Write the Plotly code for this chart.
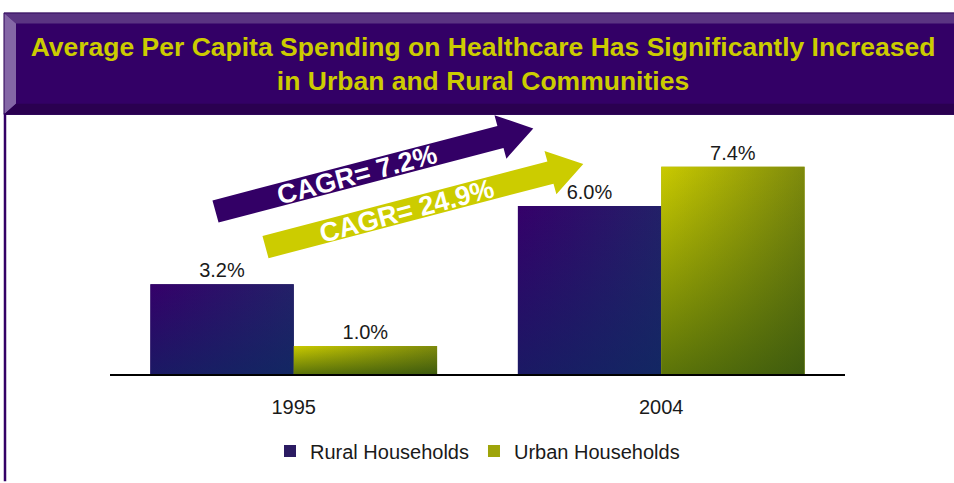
import math
import plotly.graph_objects as go

# ---------------- data ----------------
categories = ["1995", "2004"]
rural = [3.2, 6.0]
urban = [1.0, 7.4]
series_names = ["Rural Households", "Urban Households"]
cagr_labels = ["CAGR= 7.2%", "CAGR= 24.9%"]
title_lines = ["Average Per Capita Spending on Healthcare Has Significantly Increased",
               "in Urban and Rural Communities"]

# ---------------- geometry helpers ----------------
W, H = 954, 483
ML, MR, MT, MB = 110, 109, 130, 103
PW = W - ML - MR
PH = H - MT - MB
YMAX = 8.71
BW = 0.39
FONT = "Liberation Sans, Arial, sans-serif"

PURPLE = "#330066"
YELLOW = "#cccc00"
ANG = 15


def px(x):
    return (x - ML) / PW


def py(y):
    return (H - MB - y) / PH


def path(points):
    pts = [f"{px(x):.5f},{py(y):.5f}" for x, y in points]
    return "M" + " L".join(pts) + " Z"


def along(tx, ty, s, t=0.0, ang_deg=ANG):
    a = math.radians(ang_deg)
    ux, uy = math.cos(a), -math.sin(a)
    nx, ny = math.sin(a), math.cos(a)
    return (tx + ux * s + nx * t, ty + uy * s + ny * t)


def arrow_pts(tx, ty, L, bt, hl, hw):
    P = lambda s, t: along(tx, ty, s, t)
    return [P(0, -bt / 2), P(L - hl, -bt / 2), P(L - hl, -hw / 2), P(L, 0),
            P(L - hl, hw / 2), P(L - hl, bt / 2), P(0, bt / 2)]


xpos = list(range(len(categories)))

fig = go.Figure()

# data bars
fig.add_trace(go.Bar(
    x=xpos, y=rural, name=series_names[0], width=BW, offset=-BW,
    marker=dict(color="#2b1b62", line=dict(width=0)),
    texttemplate="%{y:.1f}%", textposition="outside", cliponaxis=False,
    textfont=dict(family=FONT, size=20, color="#1a1a1a"), hoverinfo="skip"))
fig.add_trace(go.Bar(
    x=xpos, y=urban, name=series_names[1], width=BW, offset=0,
    marker=dict(color="#9ea40a", line=dict(width=0)),
    texttemplate="%{y:.1f}%", textposition="outside", cliponaxis=False,
    textfont=dict(family=FONT, size=20, color="#1a1a1a"), hoverinfo="skip"))

# gradient shading drawn over the same bars (derived from the data arrays)
shade = {
    0: dict(h=[[0, "#35006a"], [1, "#232068"]], v=[[0, "rgba(5,45,95,0.55)"], [1, "rgba(5,45,95,0)"]]),
    1: dict(h=[[0, "#caca00"], [1, "#7e8a0c"]], v=[[0, "rgba(20,60,15,0.6)"], [1, "rgba(20,60,15,0)"]]),
}
for s, vals in enumerate([rural, urban]):
    for xc, v in zip(xpos, vals):
        x0 = xc - BW if s == 0 else xc
        x1 = xc if s == 0 else xc + BW
        xs = [x0, x0, x1, x1, x0]
        ys = [0, v, v, 0, 0]
        fig.add_trace(go.Scatter(
            x=xs, y=ys, mode="lines", fill="toself", line=dict(width=0),
            fillgradient=dict(type="horizontal", start=x0, stop=x1, colorscale=shade[s]["h"]),
            showlegend=False, hoverinfo="skip"))
        fig.add_trace(go.Scatter(
            x=xs, y=ys, mode="lines", fill="toself", line=dict(width=0),
            fillgradient=dict(type="vertical", start=0, stop=v, colorscale=shade[s]["v"]),
            showlegend=False, hoverinfo="skip"))

# ---------------- decoration: banner, frame line, arrows ----------------
shapes = []
shapes.append(dict(type="path", xref="paper", yref="paper", layer="below",
                   path=path([(4, 10), (960, 10), (960, 114), (4, 114)]),
                   fillcolor=PURPLE, line=dict(width=0)))
shapes.append(dict(type="path", xref="paper", yref="paper", layer="below",
                   path=path([(4, 10), (960, 10), (960, 21), (16, 21)]),
                   fillcolor="#5a3482", line=dict(width=0)))
shapes.append(dict(type="path", xref="paper", yref="paper", layer="below",
                   path=path([(4, 10), (16, 21), (16, 103), (4, 114)]),
                   fillcolor="#8466a6", line=dict(width=0)))
shapes.append(dict(type="path", xref="paper", yref="paper", layer="below",
                   path=path([(4, 114), (16, 103), (960, 103), (960, 114)]),
                   fillcolor="#2a0050", line=dict(width=0)))
shapes.append(dict(type="path", xref="paper", yref="paper", layer="below",
                   path=path([(4, 10), (960, 10), (960, 114), (4, 114)]),
                   fillcolor="rgba(0,0,0,0)", line=dict(color="#2a0055", width=1)))
shapes.append(dict(type="line", xref="paper", yref="paper", layer="below",
                   x0=px(5), x1=px(5), y0=py(113), y1=py(490),
                   line=dict(color=PURPLE, width=2.5)))

arrow_tails = [(215.5, 213.5), (265.5, 250.0)]
arrow_colors = [PURPLE, YELLOW]
annotations = []
for tail, col, label in zip(arrow_tails, arrow_colors, cagr_labels):
    pts = arrow_pts(tail[0], tail[1], 329, 23.5, 34, 46)
    shapes.append(dict(type="path", xref="paper", yref="paper", layer="above",
                       path=path(pts), fillcolor=col, line=dict(width=0)))
    cx, cy = along(tail[0], tail[1], 146, 0.5)
    annotations.append(dict(xref="paper", yref="paper", x=px(cx), y=py(cy),
                            text=f"<b>{label}</b>", showarrow=False, textangle=-ANG,
                            xanchor="center", yanchor="middle",
                            font=dict(family=FONT, size=27, color="white")))

fig.update_layout(
    width=W, height=H,
    margin=dict(l=ML, r=MR, t=MT, b=MB, pad=0),
    paper_bgcolor="white", plot_bgcolor="white",
    barmode="group",
    title=dict(text="<b>" + title_lines[0] + "</b><br><b>" + title_lines[1] + "</b>",
               x=483 / W, xref="container", xanchor="center",
               y=1 - 56 / H, yref="container", yanchor="middle",
               font=dict(family=FONT, size=26.5, color=YELLOW)),
    xaxis=dict(range=[-0.5, 1.5], tickvals=xpos, ticktext=categories,
               showline=True, linecolor="black", linewidth=2,
               showgrid=False, zeroline=False, ticks="", ticklabelstandoff=14,
               tickfont=dict(family=FONT, size=20, color="#1a1a1a"), fixedrange=True),
    yaxis=dict(range=[0, YMAX], visible=False, showgrid=False, zeroline=False, fixedrange=True),
    legend=dict(orientation="h", x=0.5, xanchor="center", y=py(459), yanchor="middle",
                font=dict(family=FONT, size=20, color="#1a1a1a"), bgcolor="rgba(0,0,0,0)",
                traceorder="normal"),
    shapes=shapes,
    annotations=annotations,
    showlegend=True,
)

fig.write_html("out.html", config={"displayModeBar": False},
               post_script="document.body.style.margin='0';")
